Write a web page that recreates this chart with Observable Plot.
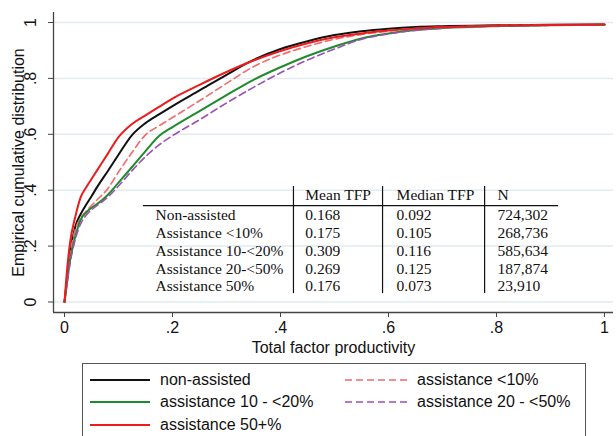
<!DOCTYPE html>
<html><head><meta charset="utf-8">
<script src="https://cdn.jsdelivr.net/npm/d3@7"></script>
<script src="https://cdn.jsdelivr.net/npm/@observablehq/plot@0.6"></script>
<style>
html,body{margin:0;padding:0;background:#fff;}
#wrap{position:relative;width:616px;height:436px;overflow:hidden;font-family:"Liberation Sans",Arial,sans-serif;}
#wrap svg{display:block;}
#legend{position:absolute;left:82px;top:363px;width:504px;height:84px;border:1px solid #555;box-sizing:border-box;background:#fff;}
.item{position:absolute;height:20px;display:flex;align-items:center;font-size:16px;color:#111;white-space:nowrap;}
.item svg{margin-right:10px;}
</style></head><body><div id="wrap"></div>
<script>
// ---- data ----
const tfpGrid = [0, 0.005, 0.01, 0.02, 0.03, 0.04, 0.05, 0.06, 0.08, 0.1, 0.125, 0.15, 0.175, 0.2, 0.25, 0.3, 0.35, 0.4, 0.45, 0.5, 0.55, 0.6, 0.65, 0.7, 0.8, 0.9, 1.0];
const nonAssisted  = [0, 0.09, 0.175, 0.27, 0.315, 0.348, 0.378, 0.41, 0.468, 0.527, 0.597, 0.640, 0.671, 0.701, 0.757, 0.813, 0.866, 0.905, 0.933, 0.955, 0.969, 0.978, 0.984, 0.987, 0.990, 0.992, 0.993];
const assistLt10   = [0, 0.085, 0.165, 0.26, 0.30, 0.325, 0.345, 0.365, 0.405, 0.465, 0.535, 0.598, 0.630, 0.660, 0.720, 0.782, 0.842, 0.884, 0.915, 0.940, 0.957, 0.969, 0.978, 0.983, 0.989, 0.991, 0.993];
const assist10to20 = [0, 0.075, 0.145, 0.235, 0.295, 0.32, 0.337, 0.35, 0.383, 0.427, 0.483, 0.540, 0.594, 0.626, 0.683, 0.740, 0.795, 0.840, 0.880, 0.914, 0.943, 0.961, 0.973, 0.980, 0.987, 0.990, 0.992];
const assist20to50 = [0, 0.07, 0.135, 0.225, 0.28, 0.31, 0.33, 0.345, 0.375, 0.415, 0.47, 0.52, 0.562, 0.595, 0.652, 0.712, 0.768, 0.820, 0.866, 0.905, 0.94, 0.959, 0.972, 0.980, 0.987, 0.990, 0.992];
const assist50plus = [0, 0.12, 0.21, 0.305, 0.375, 0.41, 0.44, 0.47, 0.53, 0.59, 0.637, 0.668, 0.698, 0.728, 0.777, 0.823, 0.864, 0.898, 0.926, 0.947, 0.961, 0.971, 0.979, 0.984, 0.989, 0.991, 0.993];

const seriesNames = ["non-assisted", "assistance <10%", "assistance 10 - <20%", "assistance 20 - <50%", "assistance 50+%"];
const seriesValues = [nonAssisted, assistLt10, assist10to20, assist20to50, assist50plus];

const tableHeaders = ["Mean TFP", "Median TFP", "N"];
const tableGroups = ["Non-assisted", "Assistance <10%", "Assistance 10-<20%", "Assistance 20-<50%", "Assistance 50%"];
const meanTFP = ["0.168", "0.175", "0.309", "0.269", "0.176"];
const medianTFP = ["0.092", "0.105", "0.116", "0.125", "0.073"];
const nObs = ["724,302", "268,736", "585,634", "187,874", "23,910"];

const xTicks = [0, 0.2, 0.4, 0.6, 0.8, 1];
const yTicks = [0, 0.2, 0.4, 0.6, 0.8, 1];
const xTitle = "Total factor productivity";
const yTitle = "Empirical cumulative distribution";

// ---- styles / layout ----
const seriesStyle = [
  {stroke: "#111111", dash: null, width: 2},
  {stroke: "#f26a6a", dash: "7,4", width: 1.6},
  {stroke: "#1f8b2a", dash: null, width: 2},
  {stroke: "#9b50b8", dash: "7,4", width: 1.6},
  {stroke: "#ec1c1c", dash: null, width: 2}
];
const drawOrder = [0, 1, 2, 3, 4];
const xDomain = [-0.0204, 1.0167];
const yDomain = [-0.0376, 1.0358];
const tbl = {
  labelX: 0.1685, colX: [0.446, 0.615, 0.802],
  headerY: 0.381, rowY: [0.3095, 0.246, 0.1825, 0.119, 0.0555],
  hlineY: 0.345, hlineX: [0.146, 0.915],
  vlineX: [0.424, 0.589, 0.778], vlineY: [0.413, 0.030],
  font: "Liberation Serif, Times New Roman, serif", size: 15.5
};

const fmt = d => d === 0 ? "0" : d === 1 ? "1" : d3.format(".1f")(d).replace(/^0/, "");

const lineData = seriesValues.map((vals, s) => tfpGrid.map((x, i) => ({x, y: vals[i], s})));

const tableMarks = [
  Plot.ruleY([tbl.hlineY], {x1: tbl.hlineX[0], x2: tbl.hlineX[1], stroke: "#111", strokeWidth: 1.2}),
  Plot.ruleX(tbl.vlineX, {y1: tbl.vlineY[0], y2: tbl.vlineY[1], stroke: "#111", strokeWidth: 1.2}),
  Plot.text(tableHeaders, {x: (d, i) => tbl.colX[i], y: () => tbl.headerY, textAnchor: "start", fontFamily: tbl.font, fontSize: tbl.size, fill: "#111"}),
  Plot.text(tableGroups, {x: () => tbl.labelX, y: (d, i) => tbl.rowY[i], textAnchor: "start", fontFamily: tbl.font, fontSize: tbl.size, fill: "#111"}),
  Plot.text(meanTFP, {x: () => tbl.colX[0], y: (d, i) => tbl.rowY[i], textAnchor: "start", fontFamily: tbl.font, fontSize: tbl.size, fill: "#111"}),
  Plot.text(medianTFP, {x: () => tbl.colX[1], y: (d, i) => tbl.rowY[i], textAnchor: "start", fontFamily: tbl.font, fontSize: tbl.size, fill: "#111"}),
  Plot.text(nObs, {x: () => tbl.colX[2], y: (d, i) => tbl.rowY[i], textAnchor: "start", fontFamily: tbl.font, fontSize: tbl.size, fill: "#111"})
];

const chart = Plot.plot({
  width: 616, height: 352,
  marginLeft: 53, marginRight: 3, marginTop: 12, marginBottom: 40,
  x: {domain: xDomain, label: null},
  y: {domain: yDomain, label: null},
  style: {fontFamily: "Liberation Sans, Arial, sans-serif", fontSize: "16px", color: "#111", background: "#fff", overflow: "visible"},
  marks: [
    Plot.gridY(yTicks, {stroke: "#e2ebef", strokeOpacity: 1, strokeWidth: 1.5}),
    ...drawOrder.map(s => Plot.line(lineData[s], {x: "x", y: "y", stroke: seriesStyle[s].stroke, strokeWidth: seriesStyle[s].width, strokeDasharray: seriesStyle[s].dash, curve: "monotone-x"})),
    ...tableMarks,
    Plot.ruleX([xDomain[0]], {stroke: "#444", strokeWidth: 1.3}),
    Plot.ruleY([yDomain[0]], {stroke: "#444", strokeWidth: 1.3}),
    Plot.axisX(xTicks, {tickFormat: fmt, tickSize: 5, tickPadding: 4, stroke: "#444", label: null, fontSize: 16}),
    Plot.axisY(yTicks, {tickFormat: fmt, tickSize: 5, tickRotate: -90, tickPadding: 13, stroke: "#444", label: null, fontSize: 16}),
    Plot.text([yTitle], {frameAnchor: "left", rotate: -90, dx: -35, textAnchor: "middle", lineAnchor: "middle", fontSize: 16, fill: "#111"}),
    Plot.text([xTitle], {frameAnchor: "bottom", dy: 35, textAnchor: "middle", lineAnchor: "middle", fontSize: 16, fill: "#111"})
  ]
});

const wrap = document.getElementById("wrap");
wrap.appendChild(chart);

// ---- legend ----
const legend = d3.select(wrap).append("div").attr("id", "legend");
const legendCol = [{sample: 7, w: 60}, {sample: 262, w: 62}];
const legendRowCenter = [16, 38, 61];
seriesNames.forEach((name, i) => {
  const row = Math.floor(i / 2), col = i % 2;
  const item = legend.append("div").attr("class", "item")
    .style("left", legendCol[col].sample + "px")
    .style("top", (legendRowCenter[row] - 10) + "px");
  const sv = item.append("svg").attr("width", legendCol[col].w).attr("height", 6);
  sv.append("line").attr("x1", 0).attr("x2", legendCol[col].w).attr("y1", 3).attr("y2", 3)
    .attr("stroke", seriesStyle[i].stroke).attr("stroke-width", seriesStyle[i].width)
    .attr("stroke-dasharray", seriesStyle[i].dash);
  item.append("span").text(name);
});
</script></body></html>
